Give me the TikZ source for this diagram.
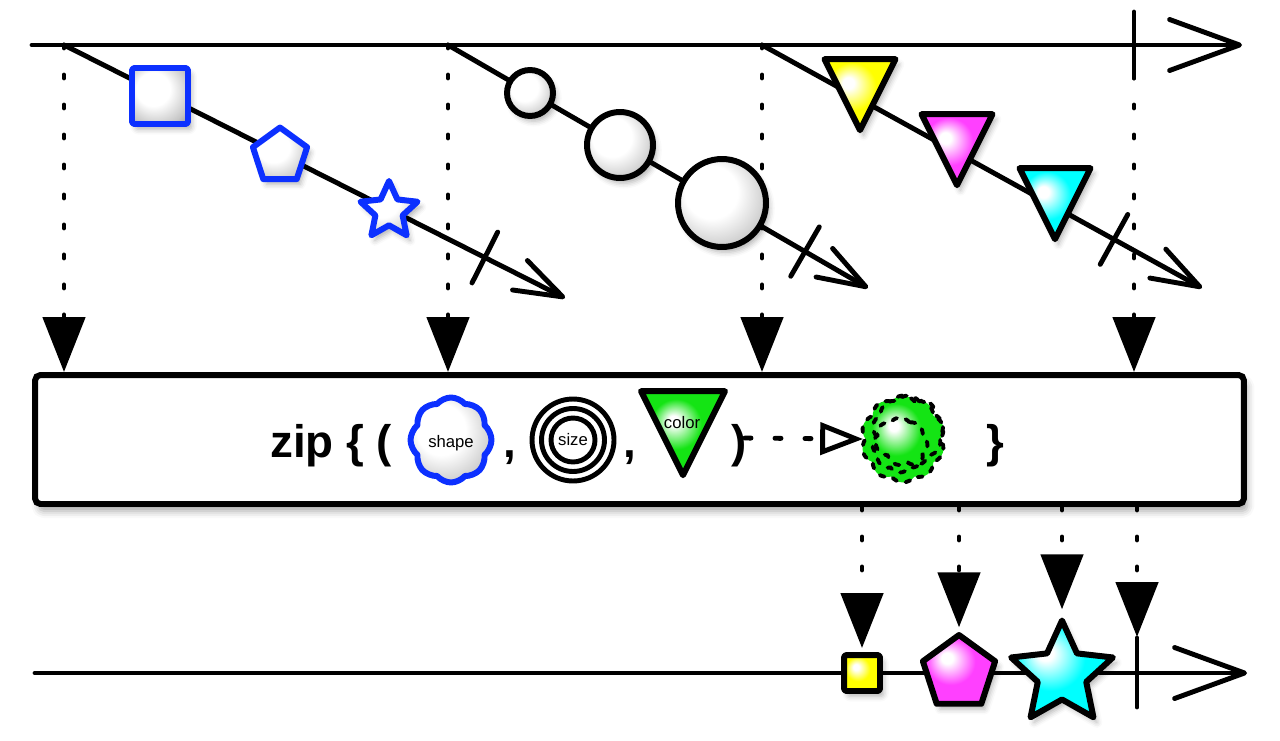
\documentclass[tikz,border=0pt]{standalone}
\usepackage{fontspec}
\setmainfont{Liberation Sans}
\usetikzlibrary{arrows.meta,calc,shapes.geometric,shapes.symbols,shadows.blur}

\definecolor{rxblue}{RGB}{12,48,255}
\definecolor{rxyellow}{RGB}{255,255,0}
\definecolor{rxmagenta}{RGB}{255,64,255}
\definecolor{rxcyan}{RGB}{0,255,255}
\definecolor{rxgreen}{RGB}{20,228,20}

% glossy fills, light from the upper left
\pgfdeclareradialshading{glossywhite}{\pgfpoint{-9bp}{9bp}}{color(0bp)=(white); color(15bp)=(white); color(30bp)=(black!22); color(46bp)=(black!60)}
\pgfdeclareradialshading{glossyyellow}{\pgfpoint{-9bp}{9bp}}{color(0bp)=(white); color(4bp)=(white); color(17bp)=(rxyellow); color(30bp)=(rxyellow); color(46bp)=(rxyellow!65!black)}
\pgfdeclareradialshading{glossymagenta}{\pgfpoint{-9bp}{9bp}}{color(0bp)=(white); color(4bp)=(white); color(17bp)=(rxmagenta); color(30bp)=(rxmagenta); color(46bp)=(rxmagenta!65!black)}
\pgfdeclareradialshading{glossycyan}{\pgfpoint{-9bp}{9bp}}{color(0bp)=(white); color(4bp)=(white); color(17bp)=(rxcyan); color(30bp)=(rxcyan); color(46bp)=(rxcyan!70!black)}
\pgfdeclareradialshading{glossygreen}{\pgfpoint{-6bp}{8bp}}{color(0bp)=(white); color(3bp)=(white); color(15bp)=(rxgreen); color(30bp)=(rxgreen); color(46bp)=(rxgreen!65!black)}

\tikzset{
  timeline/.style={line width=2.8pt, line cap=round, -{Straight Barb[round,length=1.4cm,width=1.02cm]}},
  inner line/.style={line width=2.8pt, line cap=round, -{Straight Barb[round,length=0.96cm,width=0.66cm]}},
  endmark/.style={line width=2.8pt, line cap=round},
  emit/.style={line width=2.8pt, line cap=round, dash pattern=on 0.06cm off 0.54cm, -{Triangle[width=0.84cm,length=1.1cm]}},
  flat/.style={line width=3.4pt, line join=round, inner sep=0pt},
  marble/.style={flat,
    blur shadow={shadow xshift=2pt, shadow yshift=-3pt, shadow blur radius=3pt, shadow opacity=30}},
  dtri/.style={isosceles triangle, isosceles triangle stretches, shape border rotate=270,
    anchor=apex, minimum width=#1, minimum height=#1},
  ring/.style={draw, circle, line width=2.8pt, inner sep=0pt},
  zipbox/.style={draw, line width=3.4pt, fill=white, rounded corners=3pt, inner sep=0pt,
    minimum width=24.18cm, minimum height=2.58cm,
    blur shadow={shadow xshift=2pt, shadow yshift=-4pt, shadow blur radius=4pt, shadow opacity=35}},
  zipword/.style={font=\fontsize{26}{30}\selectfont\bfseries, inner sep=0pt},
  tag/.style={font=\fontsize{9.5}{11}\selectfont, inner sep=0pt},
  fuzzy/.style={cloud, cloud puff arc=110, line width=2.2pt, line cap=round, dash pattern=on 0.1cm off 0.18cm, inner sep=0pt}
}

\begin{document}
\begin{tikzpicture}[x=0.02cm,y=-0.02cm]
\useasboundingbox (0,0) rectangle (1280,740);

% points on the time lines
\coordinate (top0) at (32,45);
\coordinate (top1) at (1242,45);
\coordinate (a1) at (64,45);
\coordinate (a2) at (448,45);
\coordinate (a3) at (762,45);
\coordinate (t1) at (1134,45);
\coordinate (e1) at (565,298);
\coordinate (e2) at (868,288);
\coordinate (e3) at (1202,288);
\coordinate (bot0) at (35,673);
\coordinate (bot1) at (1247,673);
\coordinate (t2) at (1137,673);

% the operator box
\node[zipbox] (zip) at (639.5,439.5) {};

% dotted drops into the box
\draw[emit] (a1) -- (a1|-zip.north);
\draw[emit] (a2) -- (a2|-zip.north);
\draw[emit] (a3) -- (a3|-zip.north);
\draw[emit] (t1) -- (t1|-zip.north);

% source line
\draw[timeline] (top0) -- (top1);
\draw[endmark] ($(t1)+(0,-33)$) -- ($(t1)+(0,33)$);

% inner observables
\draw[inner line] (a1) -- coordinate[pos=0.84] (k1) (e1);
\draw[inner line] (a2) -- coordinate[pos=0.85] (k2) (e2);
\draw[inner line] (a3) -- coordinate[pos=0.80] (k3) (e3);
\draw[endmark] ($(k1)!0.57cm!90:(e1)$) -- ($(k1)!0.57cm!-90:(e1)$);
\draw[endmark] ($(k2)!0.57cm!90:(e2)$) -- ($(k2)!0.57cm!-90:(e2)$);
\draw[endmark] ($(k3)!0.57cm!90:(e3)$) -- ($(k3)!0.57cm!-90:(e3)$);

% shapes
\node[marble, draw=rxblue, shading=glossywhite, rectangle, rounded corners=1.5pt, minimum size=1.12cm] (sq1) at (160,96) {};
\node[marble, draw=rxblue, shading=glossywhite, regular polygon, regular polygon sides=5, minimum size=1.14cm] (pent1) at (280,156) {};
\node[marble, draw=rxblue, shading=glossywhite, star, star points=5, star point ratio=2.1, minimum size=1.2cm] (star1) at (389,211) {};

% sizes
\node[marble, draw, shading=glossywhite, circle, minimum size=0.92cm] (c1) at (530,93) {};
\node[marble, draw, shading=glossywhite, circle, minimum size=1.32cm] (c2) at (620,145) {};
\node[marble, draw, shading=glossywhite, circle, minimum size=1.76cm] (c3) at (722,203) {};

% colours
\node[marble, dtri=1.42cm, draw, shading=glossyyellow] (ty) at (860,138) {};
\node[marble, dtri=1.42cm, draw, shading=glossymagenta] (tm) at (957,193) {};
\node[marble, dtri=1.42cm, draw, shading=glossycyan] (tc) at (1055,247) {};

% box content
\node[zipword, anchor=base west] (ziptxt) at (270,457) {zip \{ (};
\node[flat, cloud, cloud puffs=8, cloud puff arc=100, draw=rxblue, shading=glossywhite, minimum width=1.62cm, minimum height=1.7cm] (cshape) at (451,440) {};
\node[tag, anchor=base] (tshape) at (451,447) {shape};
\node[zipword, anchor=base] (comma1) at (510,457) {,};
\node[ring, minimum size=0.88cm, font=\fontsize{9.5}{11}\selectfont] (csize) at (573,440) {size};
\node[ring, minimum size=1.26cm] (csize2) at (573,440) {};
\node[ring, minimum size=1.64cm] (csize3) at (573,440) {};
\node[zipword, anchor=base] (comma2) at (630,457) {,};
\node[flat, dtri=1.68cm, draw, shading=glossygreen] (tcolor) at (683,483) {};
\node[tag, anchor=base] (tcol) at (682,428) {color};
\node[zipword, anchor=base] (rparen) at (739,457) {)};
\node[fuzzy, cloud puffs=10, draw, shading=glossygreen, minimum width=1.68cm, minimum height=1.74cm] (blob) at (903,439) {};
\node[fuzzy, cloud puffs=9, draw, minimum width=1.42cm, minimum height=1.42cm] (blob2) at (908,431) {};
\node[fuzzy, cloud puffs=8, draw, minimum width=1.1cm, minimum height=1.1cm] (blob3) at (900,445) {};
\coordinate (fstart) at (745,438);
\draw[line width=2.8pt, line cap=round, dash pattern=on 0.12cm off 0.48cm, -{Triangle[open,width=0.64cm,length=0.86cm]}] (fstart) -- (blob.west);
\node[zipword, anchor=base] (rbrace) at (995,457) {\}};

% result line
\draw[timeline] (bot0) -- (bot1);
\draw[endmark] ($(t2)+(0,-35)$) -- ($(t2)+(0,34)$);
\node[marble, draw, shading=glossyyellow, rectangle, rounded corners=1.5pt, minimum size=0.72cm] (sq2) at (862,673) {};
\node[marble, draw, shading=glossymagenta, regular polygon, regular polygon sides=5, minimum size=1.52cm] (pent2) at (959,673) {};
\node[marble, draw, shading=glossycyan, star, star points=5, star point ratio=2.1, minimum size=2.14cm] (star2) at (1062,674) {};

% dotted drops out of the box
\draw[emit, shorten >=0.08cm] (sq2.north|-zip.south) -- (sq2.north);
\draw[emit, shorten >=0.08cm] (pent2.north|-zip.south) -- (pent2.north);
\draw[emit, shorten >=0.08cm] (star2.north|-zip.south) -- (star2.north);
\draw[emit] (t2|-zip.south) -- ($(t2)+(0,-36)$);

\end{tikzpicture}
\end{document}
